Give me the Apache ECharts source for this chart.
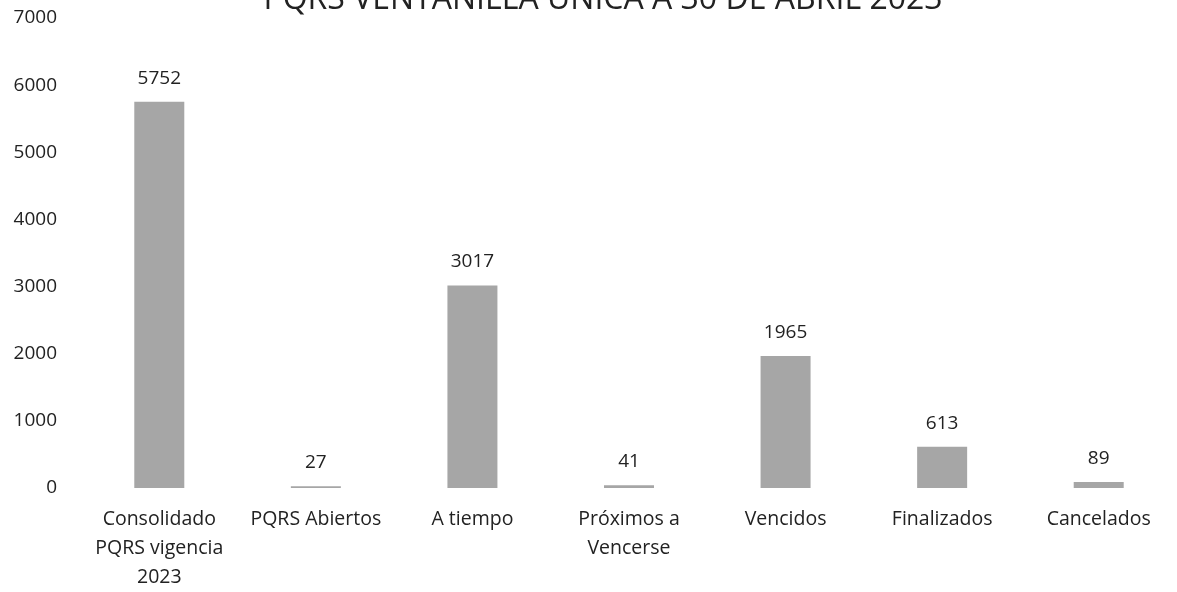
<!DOCTYPE html>
<html>
<head>
<meta charset="utf-8">
<script src="https://cdn.jsdelivr.net/npm/echarts@6/dist/echarts.min.js"></script>
<style>html,body{margin:0;padding:0;background:#fff;}#c{width:1177px;height:592px;}</style>
</head>
<body>
<div id="c"></div>
<script>
const titleText = 'PQRS VENTANILLA UNICA A 30 DE ABRIL 2023';
const categories = ['Consolidado\nPQRS vigencia\n2023', 'PQRS Abiertos', 'A tiempo', 'Próximos a\nVencerse', 'Vencidos', 'Finalizados', 'Cancelados'];
const values = [5752, 27, 3017, 41, 1965, 613, 89];
const yTicks = [0, 1000, 2000, 3000, 4000, 5000, 6000, 7000];

const font = '"Open Sans", "Noto Sans", sans-serif';
const chart = echarts.init(document.getElementById('c'));
chart.setOption({
  animation: false,
  backgroundColor: '#ffffff',
  title: {
    text: titleText,
    left: 598,
    textAlign: 'center',
    top: -21,
    textStyle: { fontFamily: font, fontSize: 32, fontWeight: 'normal', color: '#222' }
  },
  grid: { left: 81, width: 1111, top: 18, bottom: 100, containLabel: false },
  xAxis: {
    type: 'category',
    data: categories,
    axisLine: { show: false },
    axisTick: { show: false },
    axisLabel: { fontFamily: font, fontSize: 19.5, color: '#222', lineHeight: 29, margin: 17, interval: 0 }
  },
  yAxis: {
    type: 'value',
    min: yTicks[0],
    max: yTicks[yTicks.length - 1],
    interval: 1000,
    splitLine: { show: false },
    axisLine: { show: false },
    axisTick: { show: false },
    axisLabel: { fontFamily: font, fontSize: 19, color: '#222', margin: 24, formatter: v => String(v) }
  },
  series: [{
    type: 'bar',
    data: values,
    barWidth: 50,
    itemStyle: { color: '#a6a6a6' },
    label: {
      show: true,
      position: 'top',
      distance: 14,
      fontFamily: font,
      fontSize: 19,
      color: '#222'
    }
  }]
});
</script>
</body>
</html>
